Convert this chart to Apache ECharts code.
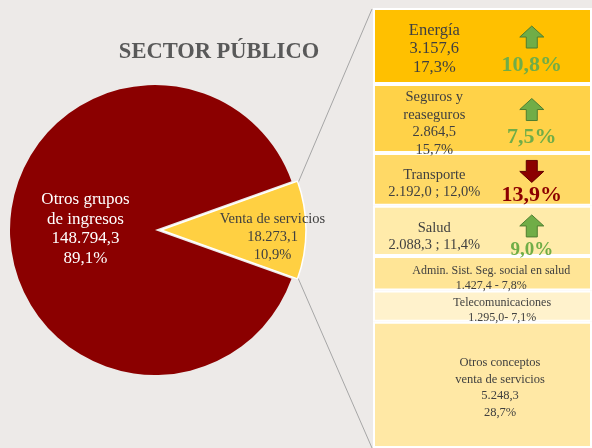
<!DOCTYPE html>
<html>
<head>
<meta charset="utf-8">
<script src="https://cdn.jsdelivr.net/npm/echarts@6/dist/echarts.min.js"></script>
<style>
  html, body { margin: 0; padding: 0; background: #EDEAE8; }
  #main { width: 592px; height: 448px; }
</style>
</head>
<body>
<div id="main"></div>
<script>
// pie: venta de servicios vs resto
var pieNames = ['Venta de servicios', 'Otros grupos\nde ingresos'];
var pieValues = [18273.1, 148794.3];
var pieTexts = ['18.273,1', '148.794,3'];
var piePct = ['10,9%', '89,1%'];

// desglose venta de servicios
var segNames = ['Energía', 'Seguros y\nreaseguros', 'Transporte', 'Salud', 'Admin. Sist. Seg. social en salud', 'Telecomunicaciones', 'Otros conceptos\nventa de servicios'];
var segValues = [3157.6, 2864.5, 2192.0, 2088.3, 1427.4, 1295.0, 5248.3];
var segTexts = ['3.157,6\n17,3%', '2.864,5\n15,7%', '2.192,0 ; 12,0%', '2.088,3 ; 11,4%', '1.427,4 - 7,8%', '1.295,0- 7,1%', '5.248,3\n28,7%'];
var segGrowth = ['10,8%', '7,5%', '13,9%', '9,0%', '', '', ''];
var segTrend = ['up', 'up', 'down', 'up', '', '', ''];

var segColors = ['#FFC000', '#FFD248', '#FFD966', '#FFEBAA', '#FFE596', '#FFF2CC', '#FFE8A5'];
var segFont = [16.5, 14.5, 14.5, 14.5, 12, 12, 12.5];
var segLine = [18.5, 17.5, 17, 17, 15, 15, 16.5];
var segLabelX = ['28%', '28%', '28%', '28%', '54%', '59%', '58%'];
var segDy = [3, 5, 4, 6, 5, 4, 3];
var growthFont = [22, 22, 22, 19];
var growthDy = [7, 7, 4, 7];

var total = 0;
for (var i = 0; i < segValues.length; i++) { total += segValues[i]; }

var serif = '"Liberation Serif", "DejaVu Serif", serif';

function svgUri(s) {
    return 'data:image/svg+xml;charset=utf-8,' + encodeURIComponent(s);
}
var upArrow = svgUri('<svg xmlns="http://www.w3.org/2000/svg" width="26" height="24" viewBox="0 0 26 24"><polygon points="13,1 25,12 18.5,12 18.5,23 7.5,23 7.5,12 1,12" fill="#70AD47" stroke="#4E7E30" stroke-width="1"/></svg>');
var downArrow = svgUri('<svg xmlns="http://www.w3.org/2000/svg" width="26" height="24" viewBox="0 0 26 24"><polygon points="7.5,1 18.5,1 18.5,12 25,12 13,23 1,12 7.5,12" fill="#8B0000" stroke="#600000" stroke-width="1"/></svg>');

var series = [];

series.push({
    type: 'pie',
    center: [155, 230],
    radius: 145,
    startAngle: 360 * pieValues[0] / (pieValues[0] + pieValues[1]) / 2,
    selectedMode: 'single',
    selectedOffset: 6,
    animation: false,
    silent: true,
    itemStyle: { borderColor: '#ffffff', borderWidth: 1.5 },
    label: {
        position: 'inner',
        fontFamily: serif,
        formatter: function (p) {
            return pieNames[p.dataIndex] + '\n' + pieTexts[p.dataIndex] + '\n' + piePct[p.dataIndex];
        }
    },
    labelLayout: function (p) {
        return p.dataIndex === 0 ? { dx: 36, dy: 7 } : { dx: 6, dy: -1 };
    },
    data: [
        { value: pieValues[0], name: 'venta', selected: true,
          itemStyle: { color: '#FFD042' },
          label: { color: '#404040', fontSize: 14.5, lineHeight: 18 } },
        { value: pieValues[1], name: 'otros',
          itemStyle: { color: '#8B0000', borderWidth: 0 },
          label: { color: '#ffffff', fontSize: 17, lineHeight: 19.5 } }
    ]
});

for (var k = 0; k < segValues.length; k++) {
    (function (i) {
        series.push({
            type: 'bar',
            stack: 'seg',
            barWidth: '100%',
            xAxisIndex: 0,
            yAxisIndex: 0,
            animation: false,
            silent: true,
            itemStyle: { color: segColors[i], borderColor: '#ffffff', borderWidth: 2 },
            label: {
                show: true,
                position: [segLabelX[i], '50%'],
                offset: [0, segDy[i]],
                align: 'center',
                verticalAlign: 'middle',
                fontFamily: serif,
                fontSize: segFont[i],
                lineHeight: segLine[i],
                color: '#404040',
                formatter: segNames[i] + '\n' + segTexts[i]
            },
            data: [segValues[i]]
        });
        var hasTrend = segTrend[i] !== '';
        var tColor = segTrend[i] === 'down' ? '#8B0000' : '#70AD47';
        series.push({
            type: 'bar',
            stack: 'trend',
            barWidth: '100%',
            barGap: '-100%',
            animation: false,
            silent: true,
            itemStyle: { color: 'rgba(0,0,0,0)' },
            label: {
                show: hasTrend,
                position: ['72.5%', '50%'],
                offset: [0, growthDy[i] || 0],
                align: 'center',
                verticalAlign: 'middle',
                formatter: hasTrend ? '{' + segTrend[i] + '|}\n{g|' + segGrowth[i] + '}' : '',
                rich: {
                    up: { backgroundColor: { image: upArrow }, width: 26, height: 24 },
                    down: { backgroundColor: { image: downArrow }, width: 26, height: 24 },
                    g: {
                        fontFamily: serif,
                        fontWeight: 'bold',
                        fontSize: growthFont[i] || 20,
                        lineHeight: i < 2 ? 32 : 24,
                        color: tColor
                    }
                }
            },
            data: [segValues[i]]
        });
    })(k);
}

var myChart = echarts.init(document.getElementById('main'));
var option = {
    backgroundColor: '#EDEAE8',
    animation: false,
    title: {
        text: 'SECTOR PÚBLICO',
        left: 214,
        top: 36,
        textAlign: 'center',
        textStyle: { fontFamily: serif, fontWeight: 'bold', fontSize: 22.5, color: '#595959' }
    },
    grid: { left: 373, right: -2, top: 8, bottom: -1 },
    xAxis: { type: 'category', data: ['venta'], show: false },
    yAxis: { type: 'value', min: 0, max: total, inverse: true, show: false },
    graphic: [
        { type: 'line', shape: { x1: 298, y1: 183, x2: 372, y2: 9 }, style: { stroke: '#A6A6A6', lineWidth: 1 }, silent: true },
        { type: 'line', shape: { x1: 298, y1: 278, x2: 372, y2: 448 }, style: { stroke: '#A6A6A6', lineWidth: 1 }, silent: true }
    ],
    series: series
};
myChart.setOption(option);
</script>
</body>
</html>
